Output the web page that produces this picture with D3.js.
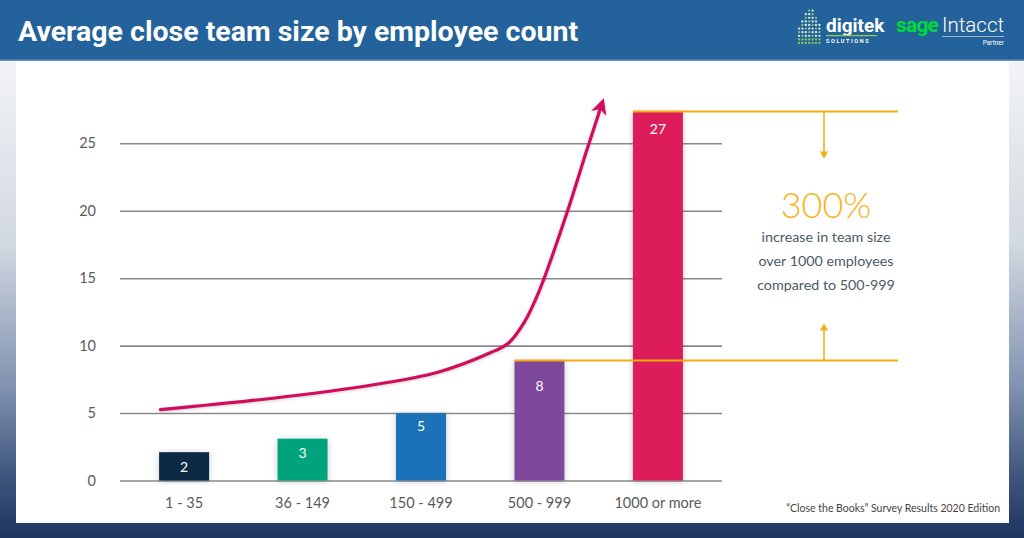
<!DOCTYPE html>
<html>
<head>
<meta charset="utf-8">
<script src="https://cdn.jsdelivr.net/npm/d3@7"></script>
<style>
  html, body { margin: 0; padding: 0; background: #fff; }
  svg { display: block; }
</style>
</head>
<body>
<svg id="chart" width="1024" height="538"></svg>
<script>
// ---- data ----
const categories = ["1 - 35", "36 - 149", "150 - 499", "500 - 999", "1000 or more"];
const barValues = [2.1, 3.1, 5.0, 8.9, 27.35];
const valueLabels = [2, 3, 5, 8, 27];
const barColors = ["#0c2c45", "#04a37c", "#1f72b9", "#7e4a9d", "#dd1a5a"];
const yTicks = [0, 5, 10, 15, 20, 25];
// trend arrow: [category position (0 = first bar centre), value]
const trendPoints = [[-0.2, 5.25], [0.75, 6.1], [1.6, 7.1], [2.15, 8.05], [2.58, 9.45], [2.74, 10.2],
                     [2.87, 11.7], [3.0, 14.1], [3.23, 19.8], [3.4, 24.5], [3.53, 28.0]];
const titleText = "Average close team size by employee count";
const bigStat = "300%";
const statLines = ["increase in team size", "over 1000 employees", "compared to 500-999"];
const sourceText = "\u201CClose the Books\u201D Survey Results 2020 Edition";

const svg = d3.select("#chart");
const W = 1024, H = 538;
const defs = svg.append("defs");

// background gradient
const bg = defs.append("linearGradient").attr("id", "bgGrad").attr("x1", 0).attr("y1", 0).attr("x2", 0).attr("y2", 1);
[[0, "#f6f7f9"], [0.12, "#f1f3f6"], [0.45, "#d3d9e2"], [0.72, "#8092b0"], [0.88, "#41577f"], [1, "#1e3461"]]
  .forEach(([o, c]) => bg.append("stop").attr("offset", o).attr("stop-color", c));

const shadow = defs.append("filter").attr("id", "shadow").attr("x", "-30%").attr("y", "-10%").attr("width", "160%").attr("height", "120%");
shadow.append("feDropShadow").attr("dx", 0).attr("dy", 1).attr("stdDeviation", 3).attr("flood-color", "#000").attr("flood-opacity", 0.22);
const lshadow = defs.append("filter").attr("id", "lshadow").attr("x", "-10%").attr("y", "-10%").attr("width", "120%").attr("height", "120%");
lshadow.append("feDropShadow").attr("dx", 0).attr("dy", 1).attr("stdDeviation", 1.5).attr("flood-color", "#000").attr("flood-opacity", 0.2);

defs.append("marker").attr("id", "trendHead").attr("viewBox", "0 0 10 10")
  .attr("refX", 7).attr("refY", 5).attr("markerWidth", 5).attr("markerHeight", 5)
  .attr("markerUnits", "strokeWidth").attr("orient", "auto")
  .append("path").attr("d", "M0,0 L10,5 L0,10 L3,5 Z").attr("fill", "#cf0f5a");

svg.append("rect").attr("width", W).attr("height", H).attr("fill", "url(#bgGrad)");

// header
svg.append("rect").attr("x", 0).attr("y", 0).attr("width", W).attr("height", 60).attr("fill", "#23629a");
svg.append("rect").attr("x", 0).attr("y", 59.5).attr("width", W).attr("height", 1.5).attr("fill", "#6793bf");
svg.append("text").attr("x", 18).attr("y", 40.5).text(titleText)
  .attr("fill", "#fff").attr("font-family", "Roboto, sans-serif").attr("font-weight", 700).attr("font-size", 28.5);

// logos
const logo = svg.append("g");
const colH = [5, 7, 9, 10, 10, 8, 6];
colH.forEach((h, ci) => {
  for (let r = 0; r < h; r++) {
    const yy = 43 - r * 3.6;
    const green = (r + ci) % 3 === 0 || r < 2;
    logo.append("circle").attr("cx", 799 + ci * 3.4).attr("cy", yy).attr("r", 1.15)
      .attr("fill", green ? "#8fd14f" : "#e8f0f6").attr("opacity", 0.95);
  }
});
logo.append("text").attr("x", 826).attr("y", 32).text("digitek")
  .attr("fill", "#fff").attr("font-family", "Roboto, sans-serif").attr("font-weight", 700).attr("font-size", 19);
logo.append("rect").attr("x", 826).attr("y", 35).attr("width", 51).attr("height", 1.2).attr("fill", "#8fd14f");
logo.append("text").attr("x", 826).attr("y", 42.5).text("SOLUTIONS")
  .attr("fill", "#fff").attr("font-family", "Roboto, sans-serif").attr("font-weight", 700).attr("font-size", 5.5)
  .attr("letter-spacing", 1.6);
logo.append("text").attr("x", 896).attr("y", 32).text("sage")
  .attr("fill", "#00d93a").attr("font-family", "Roboto, sans-serif").attr("font-weight", 700).attr("font-size", 21)
  .attr("letter-spacing", -0.8);
logo.append("text").attr("x", 942).attr("y", 32).text("Intacct")
  .attr("fill", "#fff").attr("font-family", "Roboto, sans-serif").attr("font-weight", 300).attr("font-size", 20.5);
logo.append("rect").attr("x", 942).attr("y", 36).attr("width", 62).attr("height", 0.8).attr("fill", "#b9cde0");
logo.append("text").attr("x", 1004).attr("y", 45).text("Partner").attr("text-anchor", "end")
  .attr("fill", "#fff").attr("font-family", "Roboto, sans-serif").attr("font-size", 6.5);

// panel
svg.append("rect").attr("x", 16).attr("y", 61).attr("width", 993).attr("height", 462).attr("fill", "#fff");

// scales
const x = d3.scaleBand().domain(categories).range([120, 722]).paddingInner(0.578).paddingOuter(0.33);
const y = d3.scaleLinear().domain([0, 25]).range([480.5, 143.3]);
const bw = x.bandwidth();
const xc = d3.scaleLinear().domain([0, categories.length - 1])
  .range([x(categories[0]) + bw / 2, x(categories[categories.length - 1]) + bw / 2]);

// y axis + gridlines
const yAxis = svg.append("g").attr("transform", "translate(722,0)")
  .call(d3.axisLeft(y).tickValues(yTicks).tickSize(602).tickPadding(24));
yAxis.select(".domain").remove();
yAxis.selectAll(".tick line").attr("stroke", "#8a8a8a").attr("stroke-width", 1.6);
yAxis.selectAll(".tick text").attr("fill", "#5a5a5a").attr("font-family", "Lato, sans-serif").attr("font-size", 14.5);

// x axis
const xAxis = svg.append("g").attr("transform", `translate(0,${y(0)})`)
  .call(d3.axisBottom(x).tickSize(0).tickPadding(17));
xAxis.select(".domain").remove();
xAxis.selectAll(".tick text").attr("fill", "#5a5a5a").attr("font-family", "Lato, sans-serif").attr("font-size", 14.5);

// bars
svg.append("g").selectAll("rect").data(categories).join("rect")
  .attr("x", d => x(d)).attr("width", bw)
  .attr("y", (d, i) => y(barValues[i])).attr("height", (d, i) => y(0) - y(barValues[i]))
  .attr("fill", (d, i) => barColors[i]).attr("filter", "url(#shadow)");
svg.append("g").selectAll("text").data(categories).join("text")
  .attr("x", d => x(d) + bw / 2).attr("y", (d, i) => y(valueLabels[i]) + 18)
  .attr("text-anchor", "middle").attr("fill", "#fff")
  .attr("font-family", "Lato, sans-serif").attr("font-size", 14).text((d, i) => valueLabels[i]);

// trend arrow
const line = d3.line().x(d => xc(d[0])).y(d => y(d[1])).curve(d3.curveCatmullRom.alpha(0.5));
svg.append("path").datum(trendPoints).attr("d", line)
  .attr("fill", "none").attr("stroke", "#cf0f5a").attr("stroke-width", 3.2).attr("stroke-linecap", "round")
  .attr("marker-end", "url(#trendHead)").attr("filter", "url(#lshadow)");

// 300% annotation
const orange = "#f6ab0f";
const n = categories.length;
const topY = y(barValues[n - 1]), lowY = y(barValues[n - 2]);
const annX = 824, annEnd = 898;
const ann = svg.append("g");
ann.append("line").attr("x1", x(categories[n - 1])).attr("x2", annEnd).attr("y1", topY).attr("y2", topY)
  .attr("stroke", orange).attr("stroke-width", 2);
ann.append("line").attr("x1", x(categories[n - 2])).attr("x2", annEnd).attr("y1", lowY).attr("y2", lowY)
  .attr("stroke", orange).attr("stroke-width", 2);
ann.append("line").attr("x1", annX).attr("x2", annX).attr("y1", topY).attr("y2", topY + 40)
  .attr("stroke", orange).attr("stroke-width", 1.5);
ann.append("path").attr("d", `M${annX - 4},${topY + 40} L${annX + 4},${topY + 40} L${annX},${topY + 47} Z`).attr("fill", orange);
ann.append("line").attr("x1", annX).attr("x2", annX).attr("y1", lowY).attr("y2", lowY - 30)
  .attr("stroke", orange).attr("stroke-width", 1.5);
ann.append("path").attr("d", `M${annX - 4},${lowY - 30} L${annX + 4},${lowY - 30} L${annX},${lowY - 37} Z`).attr("fill", orange);
ann.append("text").attr("x", annX + 2).attr("y", 218).attr("text-anchor", "middle").text(bigStat)
  .attr("fill", "#f6b31c").attr("font-family", "Lato, sans-serif").attr("font-weight", 300).attr("font-size", 36);
statLines.forEach((t, i) => {
  ann.append("text").attr("x", annX + 2).attr("y", 242 + i * 24).attr("text-anchor", "middle").text(t)
    .attr("fill", "#4b5a66").attr("font-family", "Lato, sans-serif").attr("font-size", 14.3);
});

// source
svg.append("text").attr("x", 1000).attr("y", 512).attr("text-anchor", "end").text(sourceText)
  .attr("fill", "#444").attr("font-family", "Lato, sans-serif").attr("font-size", 10.5);
</script>
</body>
</html>
